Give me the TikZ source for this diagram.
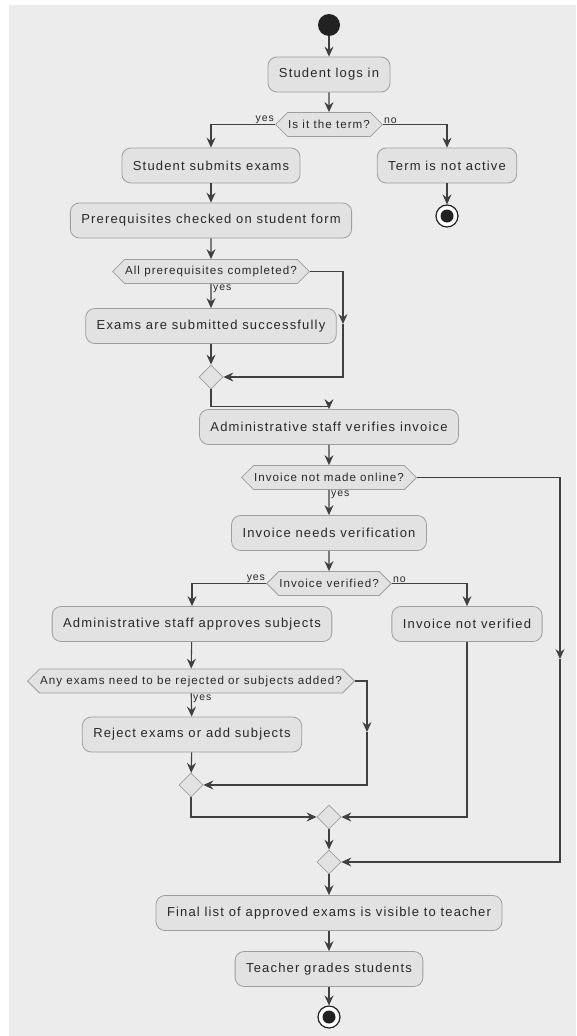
\documentclass[tikz,border=0pt]{standalone}
\usepackage{fontspec}
\setmainfont{Liberation Sans}[LetterSpace=9]
\usepackage{tikz}
\usetikzlibrary{shapes.geometric, shapes.symbols, arrows.meta, positioning}
\definecolor{bgcolor}{RGB}{236, 236, 236}
\definecolor{boxcolor}{RGB}{226, 226, 226}
\definecolor{bordercolor}{RGB}{158, 158, 158}
\definecolor{linecolor}{RGB}{64, 64, 64}
\definecolor{dotcolor}{RGB}{34, 34, 34}
\definecolor{textcolor}{RGB}{40, 40, 40}

\tikzset{
    action/.style={draw=bordercolor, fill=boxcolor, line width=0.8pt, rounded corners=9pt, minimum height=35pt, inner xsep=11pt, text=textcolor, font=\fontsize{13}{15}\selectfont},
    question/.style={draw=bordercolor, fill=boxcolor, line width=0.8pt, signal, signal to=east and west, signal pointer angle=90, minimum height=24pt, inner xsep=0.5pt, inner ysep=2pt, text=textcolor, font=\fontsize{11.6}{14}\selectfont},
    merge/.style={draw=bordercolor, fill=boxcolor, line width=0.8pt, diamond, minimum size=24pt, inner sep=0pt},
    startdot/.style={circle, fill=dotcolor, minimum size=22pt, inner sep=0pt},
    stopdot/.style={circle, draw=dotcolor, fill=white, line width=1.2pt, minimum size=22pt, inner sep=0pt, path picture={\fill[dotcolor] (path picture bounding box.center) circle (6.5pt);}},
    flow/.style={draw=linecolor, line width=1.1pt, -{Stealth[length=10pt, width=9pt, inset=3.5pt]}},
    branch/.style={font=\fontsize{10.5}{12}\selectfont, text=textcolor, inner sep=1pt},
}

\begin{document}
\begin{tikzpicture}[x=1pt, y=-1pt]
    % Background
    \useasboundingbox (0, 0) rectangle (576, 1036);
    \fill[bgcolor] (9, 5) rectangle (576, 1036);

    % Login and term check
    \node[startdot] (start) at (329, 25) {};
    \node[action] (login) at (329, 74.5) {Student logs in};
    \node[question] (termq) at (329, 124.5) {Is it the term?};
    \node[action] (submit) at (211, 165.5) {Student submits exams};
    \node[action] (inactive) at (447, 165.5) {Term is not active};
    \node[stopdot] (stopA) at (447, 216) {};

    % Prerequisites
    \node[action] (prereq) at (211, 220.5) {Prerequisites checked on student form};
    \node[question] (allq) at (211, 271.5) {All prerequisites completed?};
    \node[action] (submitted) at (211, 326) {Exams are submitted successfully};
    \node[merge] (mergeA) at (211, 377) {};
    \coordinate (loopA) at (343, 324);

    % Invoice
    \node[action] (verify) at (329, 427) {Administrative staff verifies invoice};
    \node[question] (onlineq) at (329, 477.5) {Invoice not made online?};
    \node[action] (needs) at (329, 533) {Invoice needs verification};
    \node[question] (verifiedq) at (329, 583.5) {Invoice verified?};
    \node[action] (approves) at (192, 624) {Administrative staff approves subjects};
    \node[action] (notverified) at (467, 624) {Invoice not verified};
    \coordinate (loopC) at (560, 659);

    % Subjects
    \node[question] (anyq) at (191, 681) {Any exams need to be rejected or subjects added?};
    \node[action] (reject) at (192, 734.5) {Reject exams or add subjects};
    \node[merge] (mergeB) at (191, 785) {};
    \coordinate (loopB) at (367, 732);

    % Final steps
    \node[merge] (mergeC) at (329, 817) {};
    \node[merge] (mergeD) at (329, 862) {};
    \node[action] (final) at (329, 913) {Final list of approved exams is visible to teacher};
    \node[action] (grades) at (329, 969) {Teacher grades students};
    \node[stopdot] (stopB) at (329, 1017) {};

    % Connectors
    \draw[flow] (start) -- (login);
    \draw[flow] (login) -- (termq);
    \draw[flow] (termq.west) -| (submit.north);
    \node[branch, anchor=south east] (yesA) at (termq.west) {yes};
    \draw[flow] (termq.east) -| (inactive.north);
    \node[branch, anchor=south west] (noA) at (termq.east) {no};
    \draw[flow] (inactive) -- (stopA);
    \draw[flow] (submit) -- (prereq);
    \draw[flow] (prereq) -- (allq);
    \draw[flow] (allq) -- (submitted);
    \node[branch, anchor=north west] (yesB) at ([xshift=1pt]allq.south) {yes};
    \draw[flow] (allq.east) -| (loopA);
    \draw[flow] (loopA) |- (mergeA.east);
    \draw[flow] (submitted) -- (mergeA);
    \draw[flow] (mergeA.south) -- ++(0, 17) -| (verify.north);
    \draw[flow] (verify) -- (onlineq);
    \draw[flow] (onlineq) -- (needs);
    \node[branch, anchor=north west] (yesC) at ([xshift=1pt]onlineq.south) {yes};
    \draw[flow] (onlineq.east) -| (loopC);
    \draw[flow] (loopC) |- (mergeD.east);
    \draw[flow] (needs) -- (verifiedq);
    \draw[flow] (verifiedq.west) -| (approves.north);
    \node[branch, anchor=south east] (yesD) at (verifiedq.west) {yes};
    \draw[flow] (verifiedq.east) -| (notverified.north);
    \node[branch, anchor=south west] (noD) at (verifiedq.east) {no};
    \draw[flow] (approves) -- (anyq);
    \draw[flow] (anyq) -- (reject);
    \node[branch, anchor=north west] (yesE) at ([xshift=1pt]anyq.south) {yes};
    \draw[flow] (anyq.east) -| (loopB);
    \draw[flow] (loopB) |- (mergeB.east);
    \draw[flow] (reject) -- (mergeB);
    \draw[flow] (mergeB.south) |- (mergeC.west);
    \draw[flow] (notverified.south) |- (mergeC.east);
    \draw[flow] (mergeC) -- (mergeD);
    \draw[flow] (mergeD) -- (final);
    \draw[flow] (final) -- (grades);
    \draw[flow] (grades) -- (stopB);
\end{tikzpicture}
\end{document}
